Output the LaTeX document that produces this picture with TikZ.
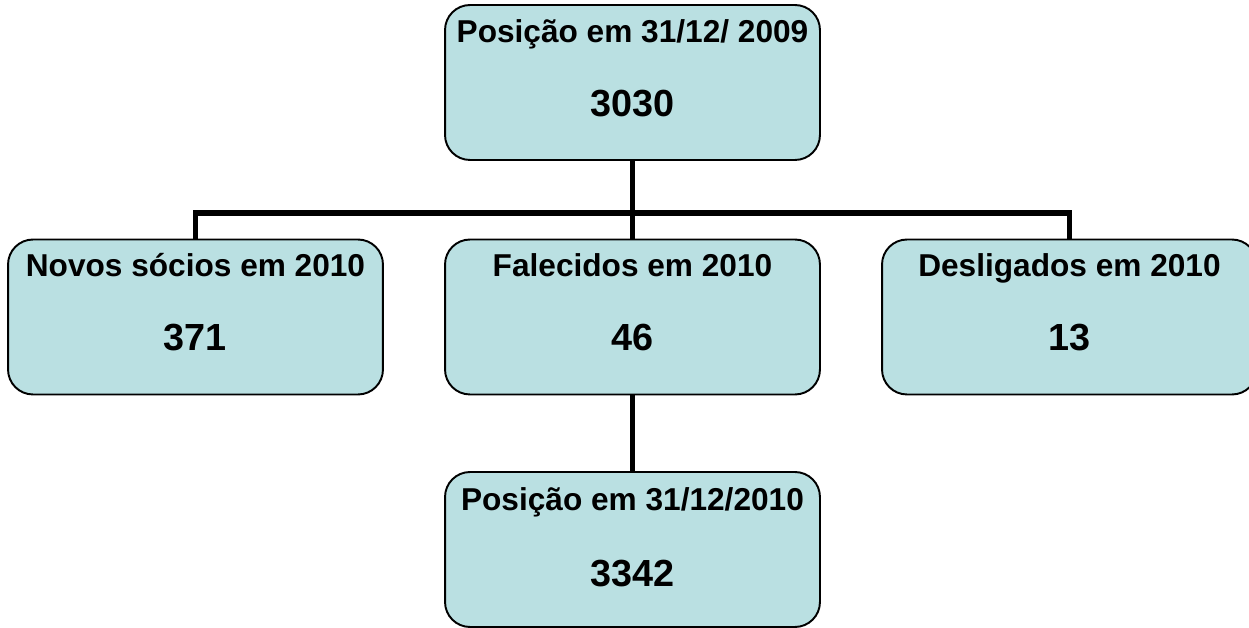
\documentclass[tikz,border=0pt]{standalone}
\usepackage{fontspec}
\setmainfont{Liberation Sans}
\usetikzlibrary{positioning}

\definecolor{boxfill}{RGB}{186,224,226}

\begin{document}
\begin{tikzpicture}[x=0.02cm, y=-0.02cm,
    box/.style={draw=black, line width=1.1pt, fill=boxfill, rounded corners=0.5cm,
                minimum width=7.5cm, minimum height=3.1cm, inner sep=0pt},
    head/.style={font=\fontsize{18}{20}\bfseries\selectfont, inner sep=0pt, anchor=base},
    num/.style={font=\fontsize{21.5}{24}\bfseries\selectfont, inner sep=0pt, anchor=base},
    conn/.style={line width=3.4pt}]
  % Fix the page size and cut what runs over the edge
  \useasboundingbox (0,0) rectangle (1249,628);
  \clip (0,0) rectangle (1249,628);

  % Boxes
  \node[box] (start) at (632.5,82.5) {};
  \node[box] (novos) at (195.5,317) {};
  \node[box] (falec) at (632.5,317) {};
  \node[box] (desl) at (1069.5,317) {};
  \node[box] (final) at (632.5,549.5) {};

  % Connectors
  \draw[conn] (start.south) -- ++(0,52) coordinate (hub);
  \draw[conn] (hub) -| (novos.north);
  \draw[conn] (hub) -| (desl.north);
  \draw[conn] (hub) -- (falec.north);
  \draw[conn] (falec.south) -- (final.north);

  % Texts (placed on their baselines)
  \node[head] (starth) at (632.5,43) {Posição em 31/12/ 2009};
  \node[num] (startn) at (632.5,117) {3030};
  \node[head] (novosh) at (195.5,277) {Novos sócios em 2010};
  \node[num] (novosn) at (195.5,351) {371};
  \node[head] (falech) at (632.5,277) {Falecidos em 2010};
  \node[num] (falecn) at (632.5,351) {46};
  \node[head] (deslh) at (1069.5,277) {Desligados em 2010};
  \node[num] (desln) at (1069.5,351) {13};
  \node[head] (finalh) at (632.5,511) {Posição em 31/12/2010};
  \node[num] (finaln) at (632.5,586) {3342};
\end{tikzpicture}
\end{document}
